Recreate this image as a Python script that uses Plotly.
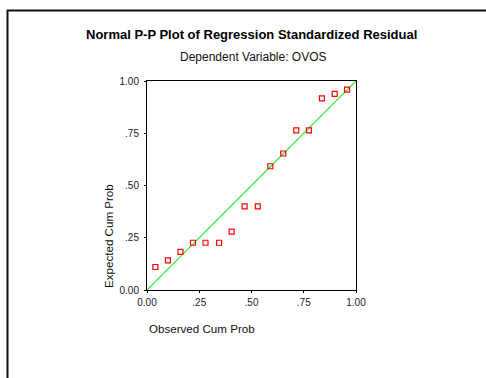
import plotly.graph_objects as go

observed = [0.04, 0.10, 0.16, 0.22, 0.28, 0.345, 0.405, 0.467, 0.53, 0.59, 0.652, 0.714, 0.775, 0.837, 0.898, 0.957]
expected = [0.11, 0.142, 0.182, 0.226, 0.226, 0.226, 0.279, 0.40, 0.40, 0.592, 0.653, 0.764, 0.764, 0.917, 0.938, 0.959]
tick_vals = [0, 0.25, 0.5, 0.75, 1.0]
tick_text = ["0.00", ".25", ".50", ".75", "1.00"]
ref_line = [0, 1]

W, H = 486, 378
L, R, T, B = 147, 356, 81, 290
pw, ph = R - L, B - T

def px(x):
    return (x - L) / pw

def py(y):
    return (B - y) / ph

FONT = "Liberation Sans, Arial, sans-serif"

fig = go.Figure()
fig.add_trace(go.Scatter(x=ref_line, y=ref_line, mode="lines",
                         line=dict(color="#22EE22", width=1.2), showlegend=False,
                         hoverinfo="skip"))
fig.add_trace(go.Scatter(x=observed, y=expected, mode="markers",
                         marker=dict(symbol="square-open", size=5,
                                     color="#FF0000", line=dict(width=1.2, color="#FF0000")),
                         showlegend=False))

axis_common = dict(range=[0, 1], tickvals=tick_vals, ticktext=tick_text,
                   showgrid=False, zeroline=False, showline=True, linecolor="black",
                   linewidth=1, mirror=True, ticks="outside", ticklen=2,
                   tickcolor="black", tickfont=dict(family=FONT, size=10, color="#222"))

fig.update_layout(
    width=W, height=H,
    margin=dict(l=L, r=W - R, t=T, b=H - B, pad=0),
    paper_bgcolor="white", plot_bgcolor="white",
    xaxis=dict(**axis_common, ticklabelstandoff=1),
    yaxis=dict(**axis_common, ticklabelstandoff=3),
    font=dict(family=FONT),
    shapes=[
        dict(type="line", xref="paper", yref="paper", x0=px(7), x1=px(490), y0=py(10.5), y1=py(10.5),
             line=dict(color="#111", width=2)),
        dict(type="line", xref="paper", yref="paper", x0=px(7.5), x1=px(7.5), y0=py(10), y1=py(380),
             line=dict(color="#111", width=2)),
    ],
    annotations=[
        dict(text="<b>Normal P-P Plot of Regression Standardized Residual</b>", xref="paper", yref="paper",
             x=px(251.5), y=py(35), xanchor="center", yanchor="middle", showarrow=False,
             font=dict(family=FONT, size=13, color="black")),
        dict(text="Dependent Variable: OVOS", xref="paper", yref="paper",
             x=px(253.5), y=py(57), xanchor="center", yanchor="middle", showarrow=False,
             font=dict(family=FONT, size=12, color="#111")),
        dict(text="Observed Cum Prob", xref="paper", yref="paper",
             x=0, y=py(328), xanchor="left", yanchor="middle", showarrow=False,
             font=dict(family=FONT, size=11.6, color="#111")),
        dict(text="Expected Cum Prob", xref="paper", yref="paper", textangle=-90,
             x=px(108), y=0, xanchor="center", yanchor="bottom", showarrow=False,
             font=dict(family=FONT, size=11.6, color="#111")),
    ],
)

fig.write_html("out.html")
